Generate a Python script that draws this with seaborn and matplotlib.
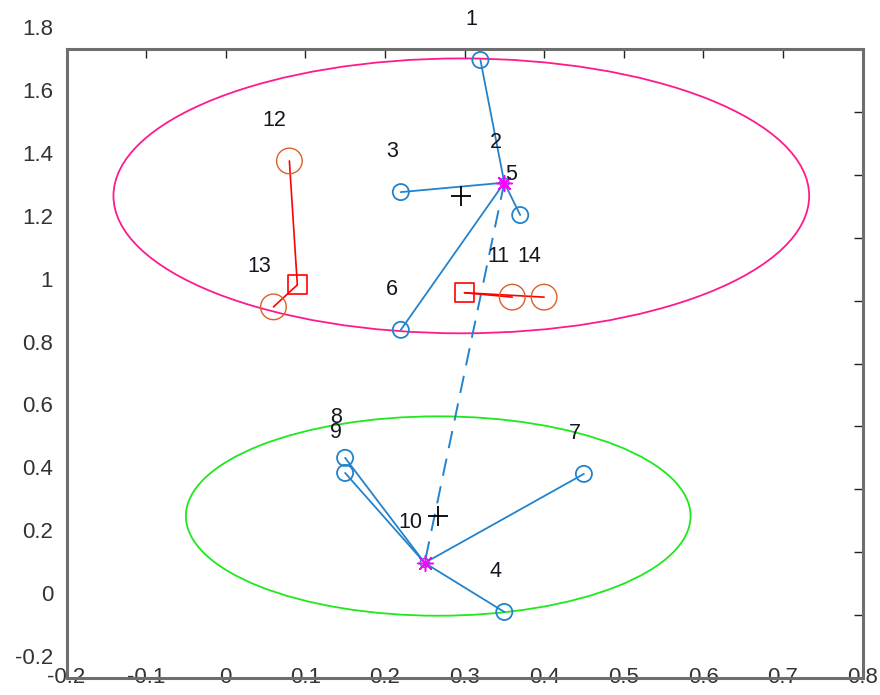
import matplotlib
matplotlib.use("Agg")
import matplotlib.pyplot as plt
from matplotlib.patches import Circle
from matplotlib.transforms import ScaledTranslation
import numpy as np
import pandas as pd
import seaborn as sns

# ---- data -------------------------------------------------------------
node_ids = [1, 2, 3, 4, 5, 6, 7, 8, 9, 10, 11, 12, 13, 14]
node_x = [0.32, 0.35, 0.22, 0.35, 0.37, 0.22, 0.45, 0.15, 0.15, 0.25, 0.36, 0.08, 0.06, 0.40]
node_y = [1.765, 1.375, 1.345, 0.01, 1.272, 0.907, 0.449, 0.50, 0.452, 0.166, 1.011, 1.444, 0.98, 1.011]

blue_nodes = [1, 2, 3, 4, 5, 6, 7, 8, 9, 10]
orange_nodes = [11, 12, 13, 14]
hub_nodes = [2, 10]

# links from each hub to its members
blue_links = [(2, 1), (2, 3), (2, 5), (2, 6), (10, 4), (10, 7), (10, 8), (10, 9)]
hub_link = (2, 10)

# square anchors and the nodes tied to them
square_x = [0.09, 0.30]
square_y = [1.05, 1.025]
square_links = [(0, 12), (0, 13), (1, 11), (1, 14)]

# cluster centres and enclosing radii
centre_x = [0.296, 0.267]
centre_y = [1.333, 0.315]
centre_r = [0.437, 0.317]
centre_colors = ["#ff1a8c", "#1ee81e"]

x_ticks = [-0.2, -0.1, 0.0, 0.1, 0.2, 0.3, 0.4, 0.5, 0.6, 0.7, 0.8]
x_labels = ["-0.2", "-0.1", "0", "0.1", "0.2", "0.3", "0.4", "0.5", "0.6", "0.7", "0.8"]
y_ticks = [-0.2, 0.0, 0.2, 0.4, 0.6, 0.8, 1.0, 1.2, 1.4, 1.6, 1.8]
y_labels = ["-0.2", "0", "0.2", "0.4", "0.6", "0.8", "1", "1.2", "1.4", "1.6", "1.8"]

# ---- tables -----------------------------------------------------------
nodes = pd.DataFrame({"id": node_ids, "x": node_x, "y": node_y}).set_index("id")

def link_table(pairs, ax_, ay_, bx_, by_):
    rows = []
    for k, (a, b) in enumerate(pairs):
        rows.append({"link": k, "x": ax_(a), "y": ay_(a)})
        rows.append({"link": k, "x": bx_(b), "y": by_(b)})
    return pd.DataFrame(rows)

blue_tbl = link_table(blue_links,
                      lambda i: nodes.loc[i, "x"], lambda i: nodes.loc[i, "y"],
                      lambda i: nodes.loc[i, "x"], lambda i: nodes.loc[i, "y"])
hub_tbl = link_table([hub_link],
                     lambda i: nodes.loc[i, "x"], lambda i: nodes.loc[i, "y"],
                     lambda i: nodes.loc[i, "x"], lambda i: nodes.loc[i, "y"])
red_tbl = link_table(square_links,
                     lambda i: square_x[i], lambda i: square_y[i],
                     lambda i: nodes.loc[i, "x"], lambda i: nodes.loc[i, "y"])

blue_pts = nodes.loc[[n for n in blue_nodes if n not in hub_nodes]].reset_index()
hub_pts = nodes.loc[hub_nodes].reset_index()
orange_pts = nodes.loc[orange_nodes].reset_index()
squares = pd.DataFrame({"x": square_x, "y": square_y})
centres = pd.DataFrame({"x": centre_x, "y": centre_y})

# ---- figure -----------------------------------------------------------
sns.set_theme(style="white")
plt.rcParams["font.family"] = ["Liberation Sans", "DejaVu Sans"]

fig = plt.figure(figsize=(8.8, 6.95), dpi=100)
ax = fig.add_axes([66.5 / 880, 17 / 695, 796 / 880, 629 / 695])

BLUE = "#2283cc"
ORANGE = "#dc5f2a"

for cx, cy, r, c in zip(centre_x, centre_y, centre_r, centre_colors):
    ax.add_patch(Circle((cx, cy), r, fill=False, ec=c, lw=1.3, zorder=1))

sns.lineplot(data=blue_tbl, x="x", y="y", units="link", estimator=None, sort=False,
             color=BLUE, lw=1.3, ax=ax, zorder=2)
sns.lineplot(data=hub_tbl, x="x", y="y", units="link", estimator=None, sort=False,
             color=BLUE, lw=1.4, ax=ax, zorder=2)
ax.lines[-1].set_dashes((9, 5.5))
sns.lineplot(data=red_tbl, x="x", y="y", units="link", estimator=None, sort=False,
             color="red", lw=1.2, ax=ax, zorder=2)

sns.scatterplot(data=blue_pts, x="x", y="y", marker="o", s=135,
                facecolors="none", edgecolors=BLUE, linewidths=1.3, ax=ax, zorder=3)
sns.scatterplot(data=hub_pts, x="x", y="y", marker="o", s=40,
                facecolors="none", edgecolors=BLUE, linewidths=1.2, ax=ax, zorder=3)
sns.scatterplot(data=hub_pts, x="x", y="y", marker=(8, 2, 0), s=130,
                color="#ff00ff", linewidths=1.1, ax=ax, zorder=4)
sns.scatterplot(data=orange_pts, x="x", y="y", marker="o", s=340,
                facecolors="none", edgecolors=ORANGE, linewidths=1.0, ax=ax, zorder=3)
sns.scatterplot(data=squares, x="x", y="y", marker="s", s=190,
                facecolors="none", edgecolors="red", linewidths=1.2, ax=ax, zorder=3)
sns.scatterplot(data=centres, x="x", y="y", marker="+", s=200,
                color="black", linewidths=1.3, ax=ax, zorder=4)

for nid, row in nodes.iterrows():
    ax.annotate(str(nid), (row["x"], row["y"]), xytext=(-2, 29),
                textcoords="offset points", ha="right", va="center",
                fontsize=15.5, color="#151520", annotation_clip=False, zorder=5)

ax.set_xlim(-0.2, 0.8)
ax.set_ylim(-0.2, 1.8)
ax.set_xticks(x_ticks, x_labels)
ax.set_yticks(y_ticks, y_labels)
ax.set_xlabel("")
ax.set_ylabel("")

for s in ax.spines.values():
    s.set_visible(True)
    s.set_color("#6e6e6e")
    s.set_linewidth(2.2)

ax.tick_params(axis="both", direction="in", length=6.5, width=1.0, color="#222222",
               top=True, right=True, labelsize=16, labelcolor="#333333")
ax.tick_params(axis="y", pad=9.7)
ax.tick_params(axis="x", pad=0)

y_shift = ScaledTranslation(0, 0.22, fig.dpi_scale_trans)
for lab in ax.get_yticklabels():
    lab.set_transform(lab.get_transform() + y_shift)
x_shift = ScaledTranslation(0, 0.11, fig.dpi_scale_trans)
for lab in ax.get_xticklabels():
    lab.set_transform(lab.get_transform() + x_shift)

fig.savefig("out.png", dpi=100)
